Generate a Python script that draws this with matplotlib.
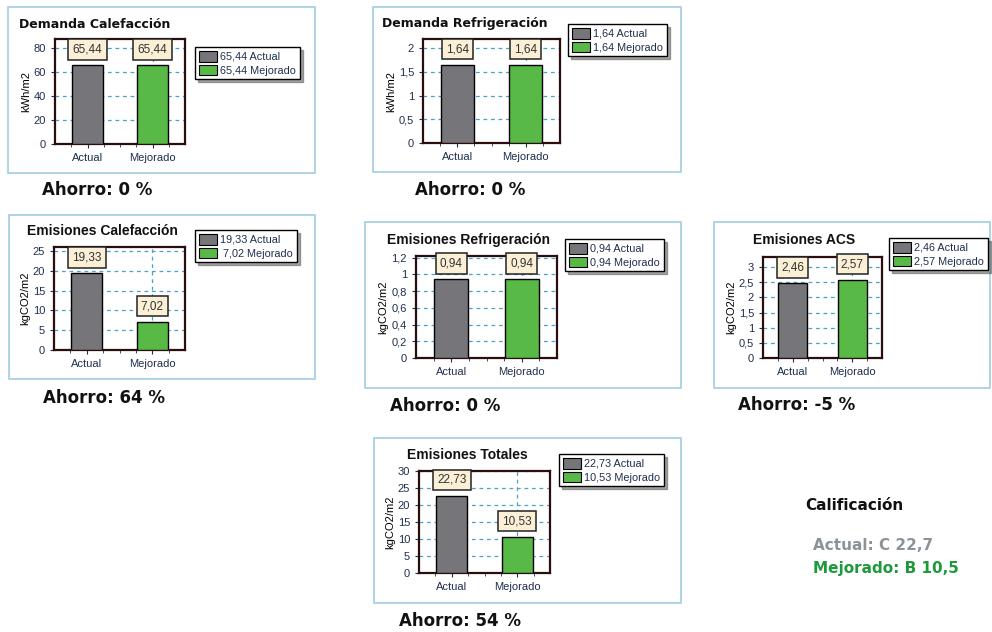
import matplotlib
matplotlib.use('Agg')
import matplotlib.pyplot as plt
from matplotlib.patches import Rectangle, Patch
from matplotlib.ticker import FuncFormatter, MultipleLocator

W, H = 992, 632

# ---------- data ----------
titles = ['Demanda Calefacción', 'Demanda Refrigeración', 'Emisiones Calefacción',
          'Emisiones Refrigeración', 'Emisiones ACS', 'Emisiones Totales']
units = ['kWh/m2', 'kWh/m2', 'kgCO2/m2', 'kgCO2/m2', 'kgCO2/m2', 'kgCO2/m2']
categories = ['Actual', 'Mejorado']
actual = [65.44, 1.64, 19.33, 0.94, 2.46, 22.73]
mejorado = [65.44, 1.64, 7.02, 0.94, 2.57, 10.53]
ahorro = ['0', '0', '64', '0', '-5', '54']
ymax = [87.5, 2.19, 26, 1.22, 3.33, 30]
ystep = [20, 0.5, 5, 0.2, 0.5, 5]
calif_actual = 'Actual: C 22,7'
calif_mejorado = 'Mejorado: B 10,5'

# ---------- layout (pixels) ----------
frames = [(8, 7, 315, 173), (373, 7, 681, 172), (9, 215, 315, 379),
          (365, 222, 681, 388), (714, 222, 990, 388), (374, 438, 681, 603)]
axboxes = [(55, 39, 185, 144), (423, 39, 560, 143), (54, 247, 185, 350),
           (416, 256, 557, 358), (763, 257, 882, 358), (419, 471, 550, 573)]
title_pos = [(19, 24), (382, 24), (27, 231), (387, 240), (753, 240), (407, 455)]
legend_pos = [(195, 47), (568, 24), (195, 230), (565, 239), (889, 238), (559, 454)]
ahorro_pos = [(42, 190), (415, 190), (43, 398), (390, 406), (738, 405), (399, 621)]

GRAY = '#76767a'
GREEN = '#58b947'
GRID = '#4aa3cc'
TICKC = '#1f2f4f'
SPINE = '#2b0d0d'


def comma(v, fmt='{:.2f}'):
    return fmt.format(v).replace('.', ',')


def tick_fmt(v, pos):
    s = '{:g}'.format(round(v, 3))
    return s.replace('.', ',')


fig = plt.figure(figsize=(W / 100, H / 100), dpi=100)
fig.patch.set_facecolor('white')

for i in range(len(titles)):
    l, t, r, b = frames[i]
    fig.patches.append(Rectangle((l / W, 1 - b / H), (r - l) / W, (b - t) / H,
                                 transform=fig.transFigure, fill=False,
                                 edgecolor='#a3cde0', linewidth=1.2))

    l, t, r, b = axboxes[i]
    ax = fig.add_axes([l / W, 1 - b / H, (r - l) / W, (b - t) / H])
    vals = [actual[i], mejorado[i]]
    ax.bar([0, 1], vals, width=0.48, color=[GRAY, GREEN], edgecolor='black',
           linewidth=1.0, zorder=3)
    ax.set_xlim(-0.5, 1.5)
    ax.set_ylim(0, ymax[i])
    ax.yaxis.set_major_locator(MultipleLocator(ystep[i]))
    ax.yaxis.set_major_formatter(FuncFormatter(tick_fmt))
    ax.set_xticks([0, 1])
    ax.set_xticklabels(categories)
    ax.set_xticks([-0.25, 0.25, 0.5, 0.75, 1.25], minor=True)
    ax.grid(axis='y', linestyle=(0, (3, 3)), color=GRID, linewidth=0.9, zorder=1)
    ax.axvline(1, linestyle=(0, (3, 3)), color=GRID, linewidth=0.9, zorder=1)
    ax.tick_params(axis='both', labelsize=8, colors=TICKC, length=3, width=0.8)
    ax.tick_params(axis='x', which='minor', length=2, color=TICKC)
    for lab in ax.get_xticklabels() + ax.get_yticklabels():
        lab.set_family('Liberation Sans')
    for sp in ax.spines.values():
        sp.set_color(SPINE)
        sp.set_linewidth(1.6)
    ax.set_ylabel(units[i], fontsize=8, family='Liberation Sans', labelpad=2)

    for x, v in zip([0, 1], vals):
        ax.annotate(comma(v), (x, v), xytext=(0, 16), textcoords='offset pixels',
                    ha='center', va='center', fontsize=8.5, family='Liberation Sans',
                    color='#333333', zorder=5,
                    bbox=dict(boxstyle='square,pad=0.35', facecolor='#fbf0d6',
                              edgecolor='#222222', linewidth=1.1))

    # title
    tx, ty = title_pos[i]
    if i < 2:
        fig.text(tx / W, 1 - ty / H, titles[i], fontsize=9, fontweight='bold',
                 family='DejaVu Sans', va='center', ha='left', color='#111111')
    else:
        fig.text(tx / W, 1 - ty / H, titles[i], fontsize=10, fontweight='bold',
                 family='Liberation Sans', va='center', ha='left', color='#111111')

    # legend
    lx, ly = legend_pos[i]
    handles = [Patch(facecolor=GRAY, edgecolor='black', linewidth=0.8),
               Patch(facecolor=GREEN, edgecolor='black', linewidth=0.8)]
    w = max(len(comma(actual[i])), len(comma(mejorado[i])))
    labels = [comma(actual[i]).rjust(w) + ' Actual',
              comma(mejorado[i]).rjust(w) + ' Mejorado']
    leg = fig.legend(handles, labels, loc='upper left',
                     bbox_to_anchor=(lx / W, 1 - ly / H),
                     prop={'family': 'Liberation Sans', 'size': 7.8},
                     frameon=True, fancybox=False, shadow=True,
                     handlelength=1.7, handleheight=1.15, handletextpad=0.3,
                     borderpad=0.35, labelspacing=0.25, borderaxespad=0)
    leg.get_frame().set_edgecolor('black')
    leg.get_frame().set_linewidth(1.0)
    for txt in leg.get_texts():
        txt.set_color(TICKC)

    # savings text
    axp, ayp = ahorro_pos[i]
    fig.text(axp / W, 1 - ayp / H, 'Ahorro: ' + ahorro[i] + ' %', fontsize=12,
             fontweight='bold', family='DejaVu Sans', va='center', ha='left',
             color='#111111')

# rating block
fig.text(805 / W, 1 - 505 / H, 'Calificación', fontsize=11, fontweight='bold',
         family='DejaVu Sans', va='center', ha='left', color='#111111')
fig.text(813 / W, 1 - 545 / H, calif_actual, fontsize=11, fontweight='bold',
         family='DejaVu Sans', va='center', ha='left', color='#8b939a')
fig.text(813 / W, 1 - 568 / H, calif_mejorado, fontsize=11, fontweight='bold',
         family='DejaVu Sans', va='center', ha='left', color='#1e9a3c')

fig.savefig('out.png', dpi=100)
